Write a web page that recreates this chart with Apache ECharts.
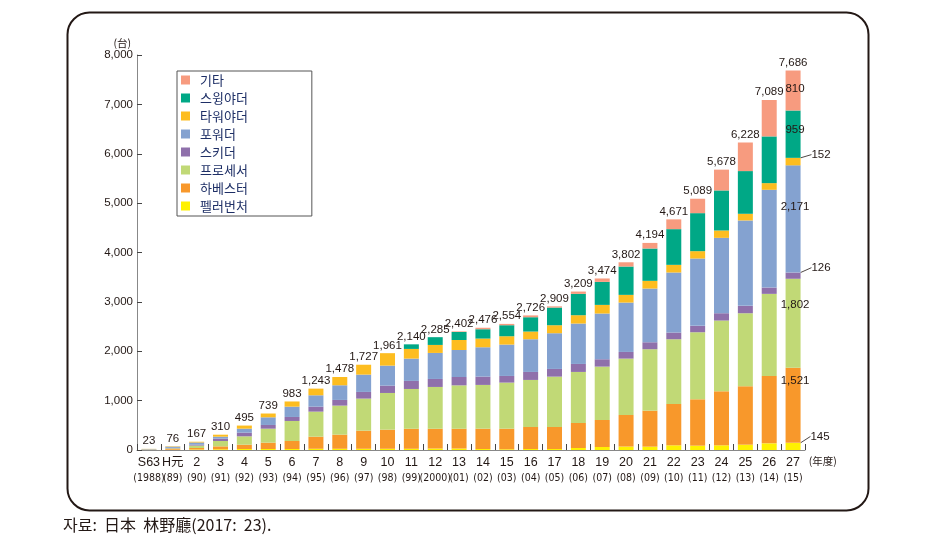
<!DOCTYPE html>
<html>
<head>
<meta charset="utf-8">
<script src="https://cdn.jsdelivr.net/npm/echarts@6/dist/echarts.min.js"></script>
<style>
html,body{margin:0;padding:0;background:#fff;}
#c{width:926px;height:558px;}
</style>
</head>
<body>
<div id="c"></div>
<script>
// ---- data ----
var categories = ['S63','H元','2','3','4','5','6','7','8','9','10','11','12','13','14','15','16','17','18','19','20','21','22','23','24','25','26','27'];
var westernYears = ['1988','89','90','91','92','93','94','95','96','97','98','99','2000','01','02','03','04','05','06','07','08','09','10','11','12','13','14','15'];
var fellerBuncher = [3,5,10,15,20,20,20,25,25,25,25,25,30,30,20,15,20,20,40,61,70,68,95,88,95,108,135,145];
var harvester     = [5,18,30,59,88,129,162,245,286,367,387,405,400,400,412,417,446,446,507,547,639,729,837,939,1094,1183,1365,1521];
var processor     = [3,12,50,108,169,283,406,507,588,649,743,806,847,879,886,933,953,1020,1034,1081,1142,1244,1311,1358,1433,1479,1662,1802];
var skidder       = [2,8,17,48,74,75,81,101,115,135,149,163,162,169,168,135,162,156,162,149,135,141,135,129,148,149,128,126];
var forwarder     = [8,25,45,40,81,155,209,230,297,351,405,452,527,547,595,635,662,723,818,926,1000,1088,1217,1364,1527,1730,1980,2171];
var towerYarder   = [2,8,15,40,63,77,105,135,167,200,252,196,162,203,176,169,156,162,169,175,156,156,155,149,149,135,135,152];
var swingYarder   = [0,0,0,0,0,0,0,0,0,0,0,93,157,162,189,223,290,358,432,466,574,655,723,770,811,865,946,959];
var others        = [0,0,0,0,0,0,0,0,0,0,0,0,0,12,30,27,37,24,47,69,86,113,198,292,421,579,738,810];
var totals        = [23,76,167,310,495,739,983,1243,1478,1727,1961,2140,2285,2402,2476,2554,2726,2909,3209,3474,3802,4194,4671,5089,5678,6228,7089,7686];
var yTicks = [0,1000,2000,3000,4000,5000,6000,7000,8000];

// ---- styling ----
var FONT = "'Liberation Sans', 'Noto Sans CJK JP', sans-serif";
var CJK = "'Noto Sans CJK KR', 'Noto Sans CJK JP', sans-serif";
var TXT = '#231815';
function fmt(n){ return String(n).replace(/\B(?=(\d{3})+(?!\d))/g, ','); }

var seriesDefs = [
  {name:'펠러번처', data:fellerBuncher, color:'#fff100', ann:'leader', dx:27, dy:-10},
  {name:'하베스터', data:harvester,     color:'#f8982b', ann:'inside', off:[2,-24]},
  {name:'프로세서', data:processor,     color:'#c1d976', ann:'inside', off:[2,-18]},
  {name:'스키더',   data:skidder,       color:'#8f70ab', ann:'leader', dx:28, dy:-8},
  {name:'포워더',   data:forwarder,     color:'#84a2d0', ann:'inside', off:[2,-12]},
  {name:'타워야더', data:towerYarder,   color:'#fdbd20', ann:'leader', dx:28, dy:-7},
  {name:'스윙야더', data:swingYarder,   color:'#00a886', ann:'inside', off:[2,-4]},
  {name:'기타',     data:others,        color:'#f79b7f', ann:'inside', off:[2,-2]}
];
var last = categories.length - 1;

var series = seriesDefs.map(function(d){
  var s = {
    name: d.name, type:'bar', stack:'a', barWidth:15,
    itemStyle:{color:d.color},
    emphasis:{disabled:true},
    data: d.data.map(function(v,i){
      if (i !== last) return v;
      var lab = {show:true, position:'inside', color:TXT, fontSize:11.5, fontFamily:FONT,
                 formatter: function(p){ return fmt(p.value); }};
      if (d.ann === 'inside') lab.offset = d.off;
      return {value:v, label:lab, labelLine:{show: d.ann === 'leader', lineStyle:{color:TXT, width:0.8}}};
    })
  };
  if (d.ann === 'leader') {
    s.labelLayout = {dx:d.dx, dy:d.dy};
    s.labelLine = {show:true, lineStyle:{color:TXT, width:0.8}};
  }
  return s;
});
series.push({
  name:'total', type:'bar', stack:'a', barWidth:15,
  data: totals.map(function(){ return 0; }),
  itemStyle:{color:'transparent'},
  emphasis:{disabled:true},
  label:{show:true, position:'top', distance:2, color:TXT, fontSize:11.5, fontFamily:FONT,
         formatter:function(p){ return fmt(totals[p.dataIndex]); }}
});

var option = {
  animation:false,
  backgroundColor:'#fff',
  textStyle:{fontFamily:FONT},
  grid:{left:137, right:121, top:55, bottom:108, containLabel:false},
  legend:{
    orient:'vertical', left:177, top:71,
    data:['기타','스윙야더','타워야더','포워더','스키더','프로세서','하베스터','펠러번처'],
    icon:'rect', itemWidth:9, itemHeight:9, itemGap:4,
    borderColor:'#555', borderWidth:1, borderRadius:0,
    padding:[2,64,3,4],
    selectedMode:false,
    textStyle:{fontSize:13, color:'#1e2f66', fontFamily:CJK, lineHeight:14, padding:[0,0,0,5]}
  },
  xAxis:{
    type:'category', data:categories,
    axisLine:{lineStyle:{color:'#888', width:1}},
    axisTick:{show:true, inside:true, length:6, alignWithLabel:false, interval:0, lineStyle:{color:'#444'}},
    axisLabel:{interval:0, margin:5, color:TXT,
      formatter:function(v, i){ return '{a|' + v + '}\n{b|(' + westernYears[i] + ')}'; },
      rich:{
        a:{fontSize:12.5, lineHeight:16, color:TXT, fontFamily:FONT},
        b:{fontSize:10.5, lineHeight:15, color:TXT, fontFamily:"'Liberation Sans Narrow', 'DejaVu Sans Condensed', sans-serif"}
      }},
    name:'(年度)', nameLocation:'end', nameGap:3,
    nameTextStyle:{fontSize:10.5, color:TXT, fontFamily:"'Noto Sans CJK JP', sans-serif", verticalAlign:'top', padding:[6,0,0,0]}
  },
  yAxis:{
    type:'value', min:0, max:8000, interval:1000,
    axisLine:{show:true, lineStyle:{color:'#888', width:1}},
    axisTick:{show:true, inside:true, length:5, lineStyle:{color:'#444'}},
    splitLine:{show:false},
    axisLabel:{fontSize:11.5, color:TXT, margin:4, fontFamily:FONT, formatter:function(v){ return fmt(v); }},
    name:'(台)', nameLocation:'end', nameGap:7,
    nameTextStyle:{fontSize:10.5, color:TXT, fontFamily:"'Noto Sans CJK JP', sans-serif", align:'right', padding:[0,6,0,0]}
  },
  graphic:[
    {type:'rect', left:65, top:10, silent:true, z:-1,
     shape:{width:801, height:498, r:22},
     style:{fill:'none', stroke:'#231815', lineWidth:2}},
    {type:'text', left:63, top:517, silent:true,
     style:{text:'자료:  日本  林野廳(2017:  23).', fontSize:16, fill:'#231815', fontFamily:CJK}}
  ],
  series: series
};

var chart = echarts.init(document.getElementById('c'), null, {renderer:'canvas'});
chart.setOption(option);
</script>
</body>
</html>
